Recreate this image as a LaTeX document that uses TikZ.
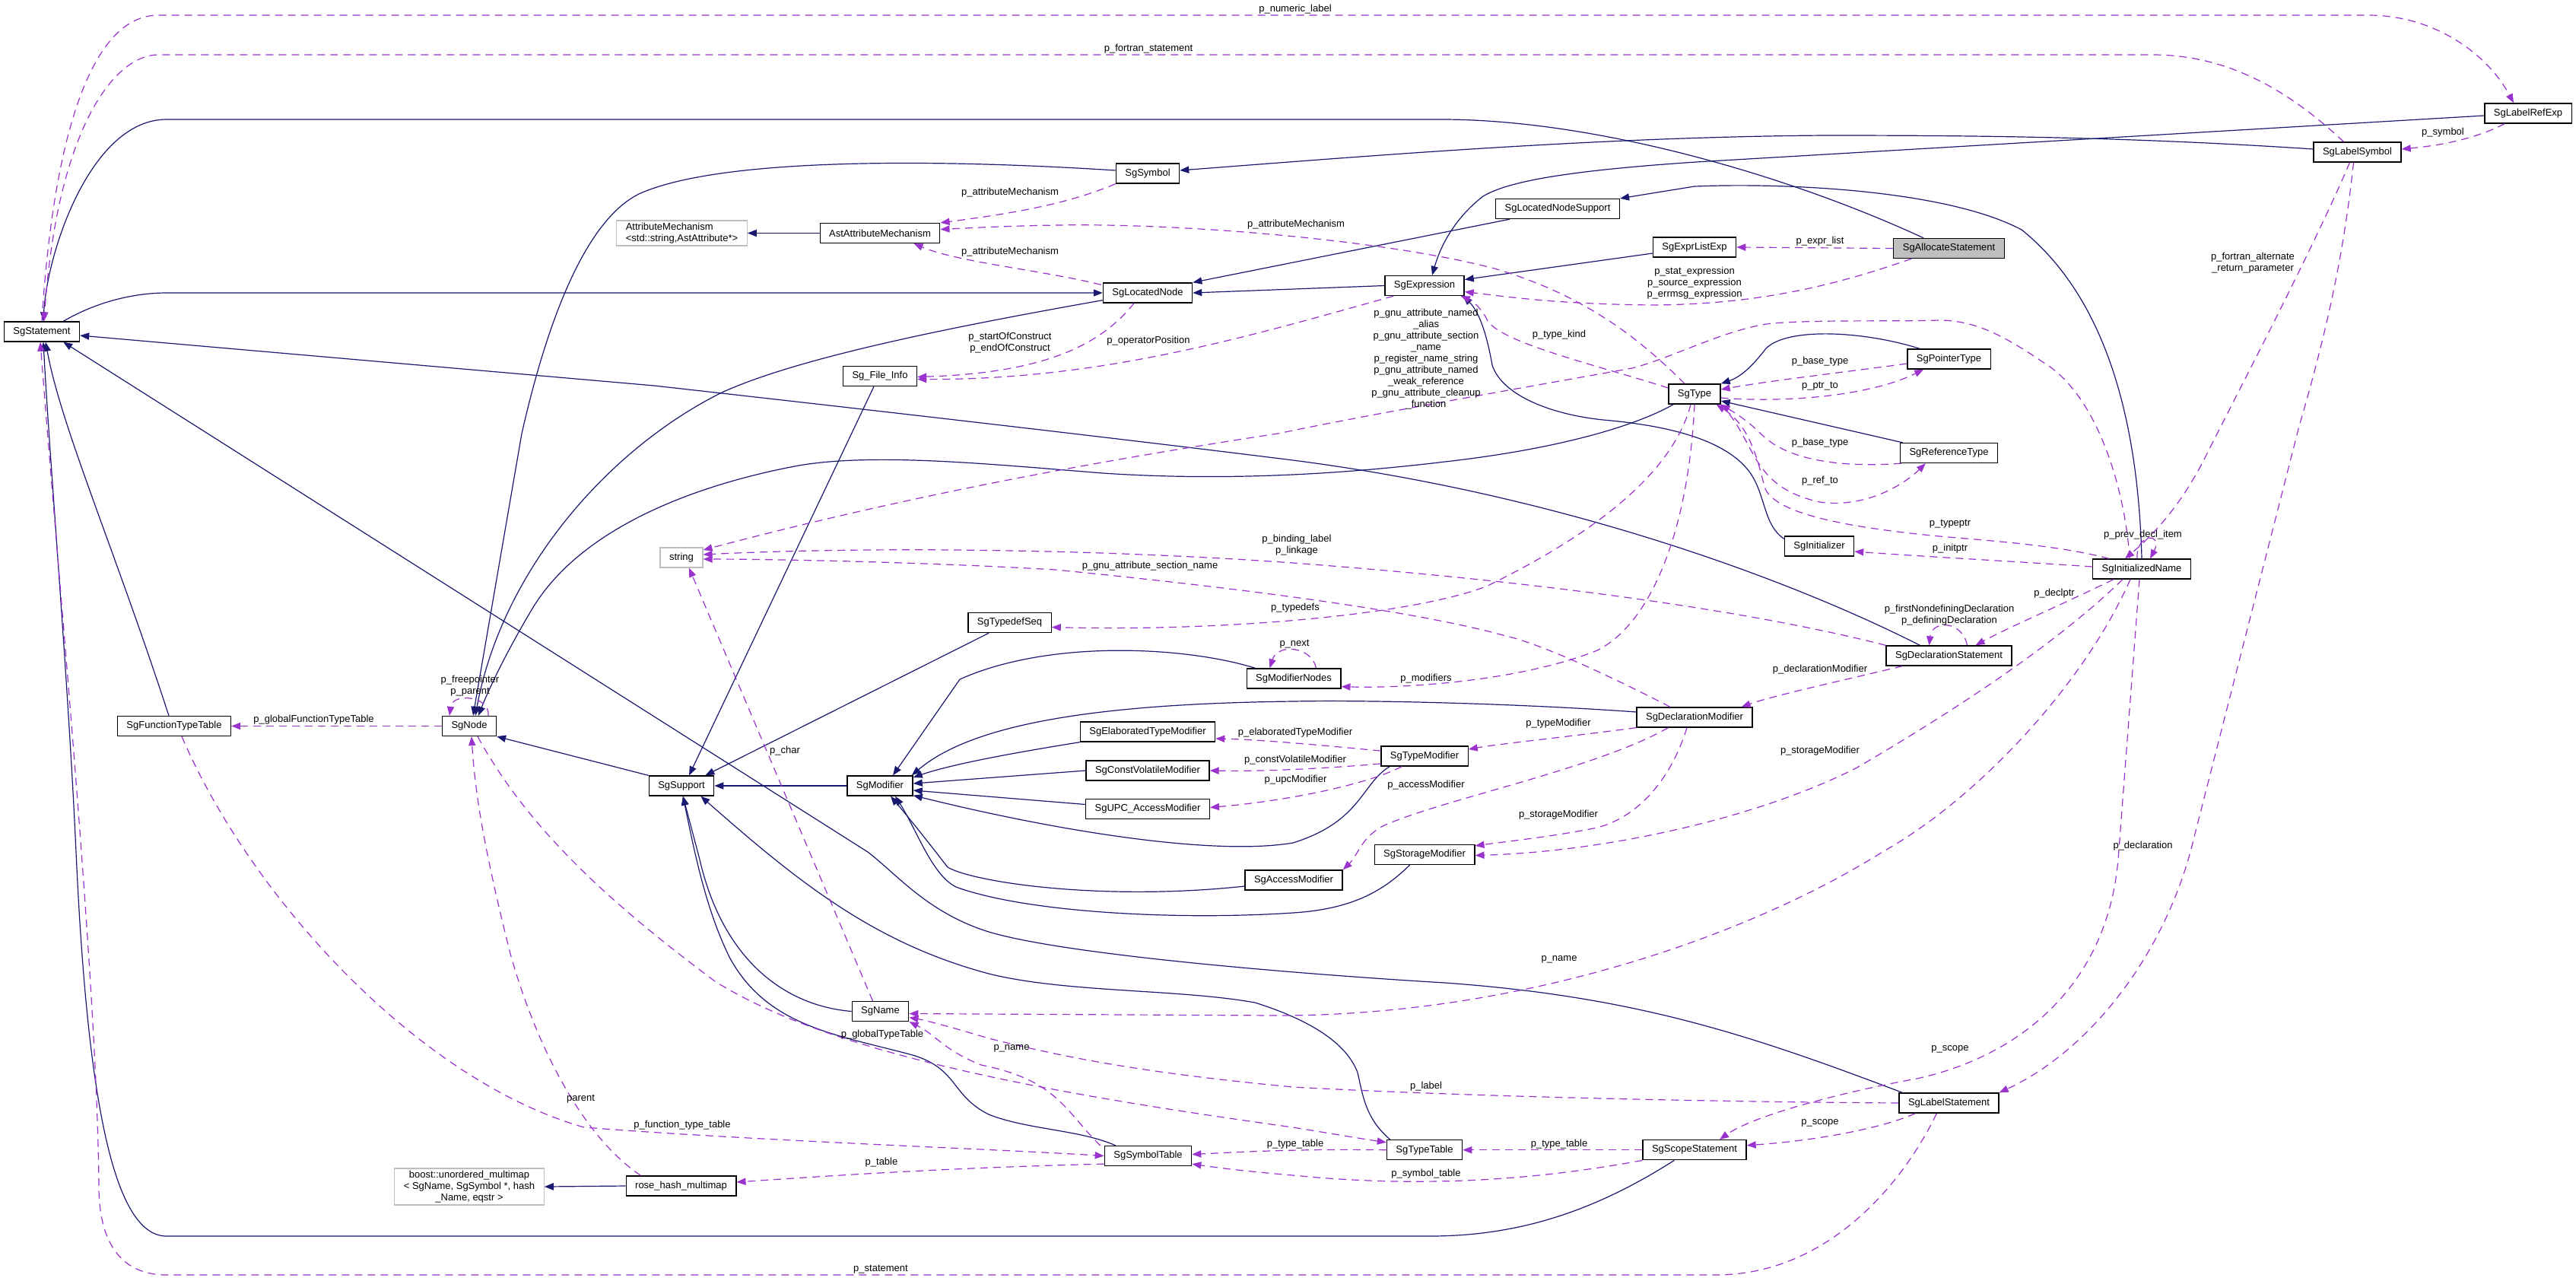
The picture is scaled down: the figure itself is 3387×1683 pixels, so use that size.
\documentclass[tikz,border=0pt]{standalone}
\usepackage{fontspec}
\setmainfont{Liberation Sans}
\usetikzlibrary{arrows.meta,calc}
\definecolor{navy}{RGB}{25,25,112}
\definecolor{orch}{RGB}{154,50,205}
\definecolor{gbord}{RGB}{191,191,191}
\definecolor{gfill}{RGB}{191,191,191}
\newcommand\dxfont{\fontsize{6.5pt}{7.5pt}\selectfont}
\begin{document}
\begin{tikzpicture}[x=0.5pt,y=-0.5pt,
 cls/.style={draw=black,fill=white,line width=0.65pt,rectangle,minimum height=13pt,inner xsep=6pt,inner ysep=1.5pt,font=\dxfont},
 ext/.style={cls,draw=gbord},
 inh/.style={draw=navy,line width=0.6pt,-{Triangle[length=6pt,width=4.6pt]}},
 use/.style={draw=orch,line width=0.6pt,dash pattern=on 5pt off 3.5pt,-{Triangle[length=6pt,width=4.6pt]}},
 lbl/.style={font=\dxfont,inner sep=0pt,align=center,text=black},
]
\fill[white] (0,0) rectangle (3387,1683);
\useasboundingbox (0,0) rectangle (3387,1683);

% ---------- nodes ----------
\node[cls,fill=gfill] (AllocStmt) at (2562.5,326.5) {SgAllocateStatement};
\node[cls] (Stmt) at (55,436) {SgStatement};
\node[ext,align=left] (AttrMech) at (896.5,306.5) {AttributeMechanism\\<std::string,AstAttribute*>};
\node[cls] (AstAttr) at (1157,306.5) {AstAttributeMechanism};
\node[cls] (Symbol) at (1509,228) {SgSymbol};
\node[cls] (LocNode) at (1509,385) {SgLocatedNode};
\node[cls] (FileInfo) at (1157,494.5) {Sg\_File\_Info};
\node[cls] (LocNodeSup) at (2048,274.5) {SgLocatedNodeSupport};
\node[cls] (ExprList) at (2228,325) {SgExprListExp};
\node[cls] (Expr) at (1873,375.5) {SgExpression};
\node[cls] (Type) at (2228,518) {SgType};
\node[cls] (PtrType) at (2562.5,472) {SgPointerType};
\node[cls] (LabelRefExp) at (3324,149) {SgLabelRefExp};
\node[cls] (LabelSym) at (3099.5,200) {SgLabelSymbol};
\node[cls] (FuncTT) at (229,954.5) {SgFunctionTypeTable};
\node[cls] (Node) at (617,954.5) {SgNode};
\node[ext] (String) at (896,733) {string};
\node[cls] (Support) at (896,1033) {SgSupport};
\node[cls] (Modifier) at (1157,1033) {SgModifier};
\node[cls] (TypedefSeq) at (1327.5,818.5) {SgTypedefSeq};
\node[cls] (ElabMod) at (1509,962) {SgElaboratedTypeModifier};
\node[cls] (CVMod) at (1509,1013) {SgConstVolatileModifier};
\node[cls] (UPCMod) at (1509,1063.5) {SgUPC\_AccessModifier};
\node[cls] (ModNodes) at (1701,892) {SgModifierNodes};
\node[cls] (Initializer) at (2392,718) {SgInitializer};
\node[cls] (RefType) at (2562.5,595.5) {SgReferenceType};
\node[cls] (DeclStmt) at (2562.5,862) {SgDeclarationStatement};
\node[cls] (DeclMod) at (2228,943) {SgDeclarationModifier};
\node[cls] (TypeMod) at (1873,994) {SgTypeModifier};
\node[cls] (StorMod) at (1873,1123.5) {SgStorageModifier};
\node[cls] (InitName) at (2816,748) {SgInitializedName};
\node[ext,align=center] (Boost) at (617,1560) {boost::unordered\_multimap\\< SgName, SgSymbol *, hash\\\_Name, eqstr >};
\node[cls] (RoseHash) at (895.5,1559) {rose\_hash\_multimap};
\node[cls] (Name) at (1157.5,1329.5) {SgName};
\node[cls] (SymTab) at (1509.5,1519.5) {SgSymbolTable};
\node[cls] (AccMod) at (1701,1157) {SgAccessModifier};
\node[cls] (TypeTable) at (1873,1511.7) {SgTypeTable};
\node[cls] (ScopeStmt) at (2228,1511.7) {SgScopeStatement};
\node[cls] (LabelStmt) at (2562.5,1450) {SgLabelStatement};

% ---------- inheritance ----------
\draw[inh] ($(AllocStmt.north west)+(40,0)$) .. controls (2350,230) and (2100,158) .. (1899,157) -- (219,157) .. controls (120,157) and (62,330) .. ($(Stmt.north)+(2,0)$);
\draw[inh] ($(Stmt.north east)+(-22,0)$) .. controls (130,395) and (180,385) .. (219,385) -- (LocNode.west);
\draw[inh] ($(DeclStmt.north west)+(45,0)$) .. controls (2350,760) and (2050,650) .. (1700,605) .. controls (1500,580) and (1200,545) .. (860,507) -- ($(Stmt.east)+(0,5)$);
\draw[inh] ($(LabelStmt.north west)+(5,0)$) .. controls (2300,1360) and (2150,1310) .. (1900,1292) .. controls (1700,1280) and (1400,1255) .. (1300,1225) .. controls (1220,1200) and (1180,1150) .. (1141,1120) -- ($(Stmt.south east)+(-22,0)$);
\draw[inh] ($(FuncTT.north)+(-7,0)$) .. controls (150,720) and (80,560) .. ($(Stmt.south)+(5,0)$);
\draw[inh] ($(ScopeStmt.south west)+(42,0)$) .. controls (2100,1590) and (2000,1625) .. (1880,1625) -- (219,1625) .. controls (150,1625) and (115,1450) .. (100,1120) .. controls (90,900) and (65,600) .. ($(Stmt.south)+(2,0)$);
\draw[inh] ($(LocNode.south west)+(0,-4)$) .. controls (1250,430) and (1050,470) .. (949,516) .. controls (800,590) and (660,750) .. ($(Node.north)+(8,0)$);
\draw[inh] ($(Symbol.west)+(0,-4)$) .. controls (1250,210) and (950,205) .. (840,255) .. controls (770,290) and (720,420) .. (686,570) -- ($(Node.north)+(5,0)$);
\draw[inh] ($(Type.south west)+(7,0)$) .. controls (2150,560) and (2050,590) .. (1900,607) .. controls (1750,625) and (1600,632) .. (1450,622) .. controls (1300,610) and (1150,595) .. (1050,612) .. controls (900,640) and (760,700) .. (700,800) .. controls (670,850) and (645,900) .. ($(Node.north)+(12,0)$);
\draw[inh] (Support.north west) -- (Node.south east);
\draw[inh] (Modifier.west) -- (Support.east);
\draw[inh] ($(FileInfo.south)+(-8,0)$) -- ($(Support.north)+(10,0)$);
\draw[inh] ($(TypedefSeq.south west)+(28,0)$) -- ($(Support.north east)+(-12,0)$);
\draw[inh] (Name.west) .. controls (1030,1322) and (950,1260) .. (920,1130) -- ($(Support.south)+(2,0)$);
\draw[inh] ($(SymTab.north west)+(15,0)$) .. controls (1420,1485) and (1350,1485) .. (1300,1465) .. controls (1250,1440) and (1260,1405) .. (1200,1387) .. controls (1100,1360) and (1010,1350) .. (960,1260) .. controls (930,1200) and (915,1130) .. ($(Support.south)+(2,0)$);
\draw[inh] ($(TypeTable.north west)+(5,0)$) .. controls (1795,1470) and (1792,1440) .. (1785,1410) .. controls (1770,1370) and (1720,1340) .. (1650,1318) .. controls (1550,1300) and (1400,1305) .. (1300,1280) .. controls (1150,1240) and (1050,1160) .. ($(Support.south east)+(-18,0)$);
\draw[inh] ($(ModNodes.north west)+(12,0)$) .. controls (1560,850) and (1380,840) .. (1262,893) -- ($(Modifier.north)+(17,0)$);
\draw[inh] ($(DeclMod.west)+(0,-7)$) .. controls (2000,925) and (1800,920) .. (1700,922) .. controls (1450,925) and (1280,950) .. ($(Modifier.north east)+(-2,0)$);
\draw[inh] (ElabMod.south west) .. controls (1330,990) and (1250,1005) .. ($(Modifier.east)+(0,-11)$);
\draw[inh] (CVMod.west) -- ($(Modifier.east)+(0,-3)$);
\draw[inh] ($(UPCMod.west)+(0,-6)$) -- ($(Modifier.east)+(0,6)$);
\draw[inh] ($(TypeMod.south west)+(12,0)$) .. controls (1790,1030) and (1790,1080) .. (1700,1108) .. controls (1600,1125) and (1400,1095) .. ($(Modifier.south east)+(0,-1)$);
\draw[inh] ($(AccMod.west)+(0,8)$) .. controls (1450,1185) and (1280,1160) .. (1246,1140) .. controls (1215,1100) and (1195,1075) .. ($(Modifier.south)+(14,0)$);
\draw[inh] ($(StorMod.south west)+(47,0)$) .. controls (1820,1170) and (1780,1195) .. (1700,1200) .. controls (1550,1210) and (1350,1200) .. (1257,1166) .. controls (1225,1150) and (1205,1090) .. ($(Modifier.south)+(20,0)$);
\draw[inh] ($(LocNodeSup.south west)+(19,0)$) -- (LocNode.north east);
\draw[inh] (Expr.west) -- (LocNode.east);
\draw[inh] ($(ExprList.west)+(0,8)$) -- ($(Expr.east)+(0,-8)$);
\draw[inh] ($(LabelRefExp.west)+(0,3)$) -- (2230,213) .. controls (2050,225) and (1980,240) .. (1950,258) .. controls (1915,285) and (1895,320) .. ($(Expr.north)+(10,0)$);
\draw[inh] ($(LabelSym.west)+(0,-4)$) .. controls (2800,180) and (2600,178) .. (2400,178) .. controls (2100,180) and (1800,205) .. ($(Symbol.east)+(0,-4)$);
\draw[inh] (InitName.north) .. controls (2812,580) and (2780,400) .. (2658,302) .. controls (2560,250) and (2350,240) .. (2228,245) -- (LocNodeSup.north east);
\draw[inh] (AstAttr.west) -- (AttrMech.east);
\draw[inh] ($(Initializer.north west)+(0,4)$) .. controls (2318,690) and (2322,650) .. (2300,620) .. controls (2270,580) and (2200,560) .. (2108,552) .. controls (2040,545) and (1975,520) .. (1962,480) .. controls (1955,440) and (1945,410) .. ($(Expr.south east)+(-2,0)$);
\draw[inh] ($(PtrType.north west)+(17,0)$) .. controls (2450,435) and (2350,430) .. (2322,458) .. controls (2305,480) and (2290,495) .. (Type.north east);
\draw[inh] ($(RefType.north west)+(4,0)$) -- ($(Type.east)+(0,9)$);
\draw[inh] (RoseHash.west) -- (Boost.east);

% ---------- usage ----------
\draw[use] (Stmt.north) .. controls (70,180) and (120,20) .. (208,20) -- (3114,20) .. controls (3200,20) and (3270,70) .. ($(LabelRefExp.north)+(-19,0)$);
\draw[use] ($(LabelSym.north)+(-18,0)$) .. controls (3000,110) and (2920,72) .. (2830,72) -- (208,72) .. controls (150,72) and (75,170) .. ($(Stmt.north)+(3,0)$);
\draw[use] (Symbol.south west) .. controls (1400,270) and (1320,282) .. (AstAttr.north east);
\draw[use] ($(LocNode.north west)+(-2,3)$) .. controls (1370,355) and (1260,345) .. ($(AstAttr.south east)+(-35,0)$);
\draw[use] ($(Type.north)+(-13,0)$) .. controls (2160,450) and (2090,390) .. (1965,353) .. controls (1820,315) and (1550,293) .. (1390,296) .. controls (1320,297) and (1270,300) .. ($(AstAttr.east)+(0,-5)$);
\draw[use] ($(LocNode.south)+(-18,0)$) .. controls (1450,450) and (1380,490) .. ($(FileInfo.east)+(0,1)$);
\draw[use] ($(Expr.south west)+(12,0)$) .. controls (1650,440) and (1450,500) .. ($(FileInfo.east)+(0,4)$);
\draw[use] (AllocStmt.west) -- (ExprList.east);
\draw[use] ($(AllocStmt.south west)+(24,0)$) .. controls (2400,380) and (2300,400) .. (2174,401) .. controls (2050,400) and (1980,390) .. ($(Expr.east)+(0,8)$);
\draw[use] ($(InitName.north)+(-16,0)$) .. controls (2795,650) and (2760,520) .. (2686,476) .. controls (2640,445) and (2600,421) .. (2550,421) .. controls (2480,423) and (2400,420) .. (2330,425) .. controls (2270,432) and (2200,470) .. (2146,484) .. controls (2000,510) and (1800,545) .. (1680,570) .. controls (1450,605) and (1200,650) .. ($(String.east)+(0,-10)$);
\draw[use] ($(Type.west)+(0,-8)$) .. controls (2100,480) and (1970,450) .. (1955,420) .. controls (1948,405) and (1935,395) .. ($(Expr.south east)+(-5,0)$);
\draw[use] ($(PtrType.west)+(0,6)$) .. controls (2420,490) and (2330,500) .. ($(Type.east)+(0,-6)$);
\draw[use] ($(Type.east)+(0,5)$) .. controls (2350,530) and (2460,520) .. ($(PtrType.south west)+(22,0)$);
\draw[use] ($(RefType.south west)+(2,0)$) .. controls (2420,615) and (2350,605) .. (2316,571) .. controls (2300,555) and (2285,545) .. (Type.south east);
\draw[use] (Type.south east) .. controls (2310,580) and (2300,640) .. (2393,660) .. controls (2450,668) and (2500,640) .. ($(RefType.south west)+(34,0)$);
\draw[use] ($(InitName.north west)+(22,0)$) .. controls (2700,715) and (2600,710) .. (2540,704) .. controls (2400,690) and (2330,670) .. (2320,640) .. controls (2310,600) and (2300,560) .. ($(Type.south east)+(-6,0)$);
\draw[use] ($(InitName.west)+(0,-3)$) .. controls (2650,738) and (2550,733) .. ($(Initializer.east)+(0,7)$);
\draw[use] ($(InitName.north)+(-6,0)$) .. controls (2808,700) and (2845,700) .. ($(InitName.north)+(11,0)$);
\draw[use] ($(LabelSym.south)+(-10,0)$) .. controls (3040,330) and (2940,520) .. (2900,600) .. controls (2870,660) and (2835,700) .. ($(InitName.north)+(-22,0)$);
\draw[use] ($(InitName.south west)+(28,0)$) .. controls (2700,800) and (2640,825) .. ($(DeclStmt.north)+(35,0)$);
\draw[use] ($(DeclStmt.north)+(24,0)$) .. controls (2580,815) and (2540,815) .. ($(DeclStmt.north)+(-26,0)$);
\draw[use] ($(DeclStmt.south west)+(22,0)$) .. controls (2420,895) and (2330,915) .. ($(DeclMod.north east)+(-15,0)$);
\draw[use] (DeclStmt.north west) .. controls (2350,815) and (2100,770) .. (1700,740) .. controls (1450,722) and (1150,718) .. ($(String.east)+(0,-4)$);
\draw[use] ($(DeclMod.north)+(-32,0)$) .. controls (2100,880) and (2020,845) .. (1980,836) .. controls (1850,800) and (1600,770) .. (1388,749) .. controls (1200,738) and (1000,735) .. ($(String.east)+(0,2)$);
\draw[use] ($(Type.south)+(-5,0)$) .. controls (2200,620) and (2100,700) .. (1954,771) .. controls (1850,810) and (1600,830) .. ($(TypedefSeq.east)+(0,6)$);
\draw[use] (Type.south) .. controls (2220,700) and (2170,820) .. (2100,855) .. controls (2000,895) and (1850,905) .. ($(ModNodes.south east)+(0,-3)$);
\draw[use] ($(ModNodes.north east)+(-33,0)$) .. controls (1725,850) and (1680,845) .. ($(ModNodes.north west)+(31,0)$);
\draw[use] (DeclMod.south west) .. controls (2050,970) and (1970,978) .. ($(TypeMod.east)+(0,-9)$);
\draw[use] ($(TypeMod.west)+(0,-7)$) .. controls (1720,978) and (1650,972) .. ($(ElabMod.east)+(0,9)$);
\draw[use] ($(TypeMod.west)+(0,10)$) .. controls (1720,1012) and (1650,1014) .. (CVMod.east);
\draw[use] ($(TypeMod.south west)+(28,0)$) .. controls (1800,1030) and (1700,1052) .. ($(UPCMod.east)+(0,-2)$);
\draw[use] ($(DeclMod.south west)+(42,0)$) .. controls (2100,1010) and (1900,1050) .. (1820,1085) .. controls (1790,1100) and (1785,1125) .. (AccMod.north east);
\draw[use] ($(DeclMod.south)+(-10,0)$) .. controls (2195,1030) and (2150,1075) .. (2100,1088) .. controls (2040,1100) and (1990,1105) .. ($(StorMod.north east)+(0,2)$);
\draw[use] ($(InitName.south west)+(40,0)$) .. controls (2700,850) and (2560,940) .. (2440,1010) .. controls (2300,1080) and (2100,1120) .. ($(StorMod.east)+(0,1)$);
\draw[use] ($(InitName.south west)+(50,0)$) .. controls (2740,900) and (2600,1050) .. (2475,1120) .. controls (2300,1230) and (2000,1335) .. (1680,1335) -- ($(Name.east)+(0,3)$);
\draw[use] ($(InitName.south)+(-3,0)$) -- (2785,1130) .. controls (2770,1300) and (2650,1390) .. (2520,1418) .. controls (2400,1440) and (2300,1470) .. ($(ScopeStmt.north)+(33,0)$);
\draw[use] ($(LabelSym.south)+(-5,0)$) .. controls (3085,300) and (3070,400) .. (3023,560) -- (2885,1100) .. controls (2850,1250) and (2750,1380) .. (LabelStmt.north east);
\draw[use] ($(LabelRefExp.south west)+(27,0)$) .. controls (3250,185) and (3200,192) .. ($(LabelSym.east)+(0,-4)$);
\draw[use] (Node.west) -- (FuncTT.east);
\draw[use] ($(Node.north)+(25,0)$) .. controls (645,915) and (595,910) .. ($(Node.north)+(-26,0)$);
\draw[use] ($(FuncTT.south)+(10,0)$) .. controls (330,1180) and (550,1420) .. (768,1482) .. controls (1000,1500) and (1300,1510) .. (SymTab.west);
\draw[use] ($(RoseHash.north west)+(20,0)$) .. controls (760,1490) and (700,1360) .. (670,1250) .. controls (640,1130) and (625,1050) .. ($(Node.south)+(3,0)$);
\draw[use] ($(Node.south)+(11,0)$) .. controls (700,1100) and (820,1200) .. (940,1290) .. controls (1100,1390) and (1400,1440) .. (1700,1482) .. controls (1750,1490) and (1790,1497) .. ($(TypeTable.west)+(0,-10)$);
\draw[use] ($(Name.north)+(-10,0)$) -- ($(String.south)+(10,0)$);
\draw[use] ($(SymTab.north west)+(-5,0)$) .. controls (1400,1460) and (1390,1420) .. (1290,1400) .. controls (1240,1380) and (1230,1360) .. (Name.south east);
\draw[use] (LabelStmt.west) .. controls (2200,1448) and (1900,1440) .. (1700,1429) .. controls (1500,1410) and (1400,1390) .. (1300,1365) .. controls (1250,1350) and (1220,1342) .. ($(Name.east)+(0,8)$);
\draw[use] (TypeTable.west) .. controls (1700,1510) and (1620,1515) .. ($(SymTab.east)+(0,-2)$);
\draw[use] (ScopeStmt.west) -- (TypeTable.east);
\draw[use] (ScopeStmt.south west) .. controls (2000,1555) and (1850,1560) .. (1700,1545) .. controls (1640,1540) and (1600,1535) .. ($(SymTab.south east)+(0,-3)$);
\draw[use] ($(SymTab.south west)+(0,-3)$) .. controls (1250,1535) and (1100,1545) .. ($(RoseHash.east)+(0,-5)$);
\draw[use] ($(LabelStmt.south west)+(22,0)$) .. controls (2470,1485) and (2380,1500) .. ($(ScopeStmt.east)+(0,-6)$);
\draw[use] ($(LabelStmt.south west)+(50,0)$) .. controls (2500,1560) and (2400,1676) .. (2256,1676) -- (219,1676) .. controls (150,1676) and (130,1620) .. (130,1560) .. controls (128,1300) and (80,800) .. ($(Stmt.south)+(-2,0)$);

% ---------- labels ----------
\node[lbl] (l1) at (1703,12) {p\_numeric\_label};
\node[lbl] (l2) at (1510,64) {p\_fortran\_statement};
\node[lbl] (l3) at (1328,253) {p\_attributeMechanism};
\node[lbl] (l4) at (1328,331.5) {p\_attributeMechanism};
\node[lbl] (l5) at (1704,295) {p\_attributeMechanism};
\node[lbl] (l6) at (1328,451) {p\_startOfConstruct\\p\_endOfConstruct};
\node[lbl] (l7) at (1510,448) {p\_operatorPosition};
\node[lbl] (l8) at (2393,317) {p\_expr\_list};
\node[lbl] (l9) at (2228,372) {p\_stat\_expression\\p\_source\_expression\\p\_errmsg\_expression};
\node[lbl] (l10) at (1875,472) {p\_gnu\_attribute\_named\\\_alias\\p\_gnu\_attribute\_section\\\_name\\p\_register\_name\_string\\p\_gnu\_attribute\_named\\\_weak\_reference\\p\_gnu\_attribute\_cleanup\\\_function};
\node[lbl] (l11) at (2050,440) {p\_type\_kind};
\node[lbl] (l12) at (2393,475.5) {p\_base\_type};
\node[lbl] (l13) at (2393,508) {p\_ptr\_to};
\node[lbl] (l14) at (2393,582.5) {p\_base\_type};
\node[lbl] (l15) at (2393,632) {p\_ref\_to};
\node[lbl] (l16) at (3212,174.5) {p\_symbol};
\node[lbl] (l17) at (2962,346) {p\_fortran\_alternate\\\_return\_parameter};
\node[lbl] (l18) at (2564,689) {p\_typeptr};
\node[lbl] (l19) at (2564,721) {p\_initptr};
\node[lbl] (l20) at (2817.5,703) {p\_prev\_decl\_item};
\node[lbl] (l21) at (2701,780) {p\_declptr};
\node[lbl] (l22) at (2563,809) {p\_firstNondefiningDeclaration\\p\_definingDeclaration};
\node[lbl] (l23) at (2393,880) {p\_declarationModifier};
\node[lbl] (l24) at (1705,717) {p\_binding\_label\\p\_linkage};
\node[lbl] (l25) at (1512,744) {p\_gnu\_attribute\_section\_name};
\node[lbl] (l26) at (1703,799) {p\_typedefs};
\node[lbl] (l27) at (1702,847) {p\_next};
\node[lbl] (l28) at (1875,892.6) {p\_modifiers};
\node[lbl] (l29) at (2049,951) {p\_typeModifier};
\node[lbl] (l30) at (1703,963) {p\_elaboratedTypeModifier};
\node[lbl] (l31) at (1703,999) {p\_constVolatileModifier};
\node[lbl] (l32) at (1703.5,1025) {p\_upcModifier};
\node[lbl] (l33) at (1875,1032.6) {p\_accessModifier};
\node[lbl] (l34) at (2049,1070.7) {p\_storageModifier};
\node[lbl] (l35) at (2393,987) {p\_storageModifier};
\node[lbl] (l36) at (2817.5,1112.5) {p\_declaration};
\node[lbl] (l37) at (2050,1261) {p\_name};
\node[lbl] (l38) at (2564,1379) {p\_scope};
\node[lbl] (l39) at (1875,1427.7) {p\_label};
\node[lbl] (l40) at (2050,1503.8) {p\_type\_table};
\node[lbl] (l41) at (1875,1543.6) {p\_symbol\_table};
\node[lbl] (l42) at (2393,1476.5) {p\_scope};
\node[lbl] (l43) at (412.5,946) {p\_globalFunctionTypeTable};
\node[lbl] (l44) at (618,901.5) {p\_freepointer\\p\_parent};
\node[lbl] (l45) at (1032,987) {p\_char};
\node[lbl] (l46) at (1160,1360.5) {p\_globalTypeTable};
\node[lbl] (l47) at (1330,1378.5) {p\_name};
\node[lbl] (l48) at (1703,1504) {p\_type\_table};
\node[lbl] (l49) at (897,1479) {p\_function\_type\_table};
\node[lbl] (l50) at (763.5,1445) {parent};
\node[lbl] (l51) at (1159,1528.5) {p\_table};
\node[lbl] (l52) at (1158,1668.5) {p\_statement};
\end{tikzpicture}
\end{document}
